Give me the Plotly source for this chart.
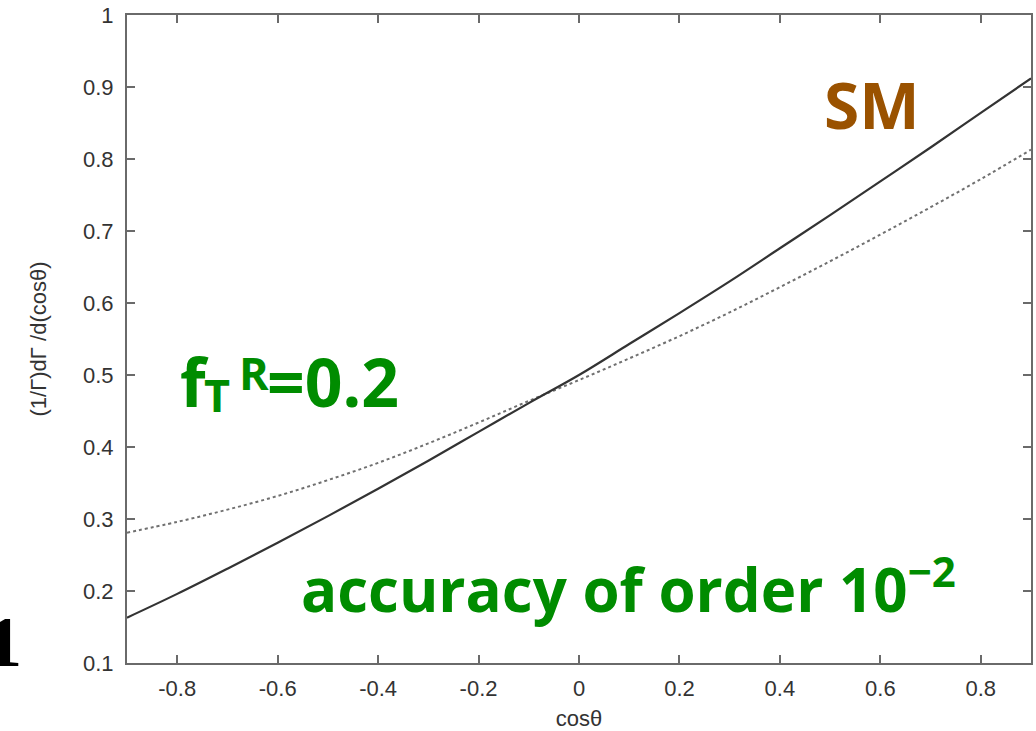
import plotly.graph_objects as go

# cos(theta) sampling points
cos_theta = [-0.9, -0.8, -0.7, -0.6, -0.5, -0.4, -0.3, -0.2, -0.1, 0.0,
             0.1, 0.2, 0.3, 0.4, 0.5, 0.6, 0.7, 0.8, 0.9]

# Standard Model distribution (solid)
sm_dist = [0.163, 0.196, 0.231, 0.267, 0.304, 0.342, 0.381, 0.421, 0.461, 0.500,
           0.543, 0.586, 0.630, 0.676, 0.722, 0.769, 0.816, 0.864, 0.912]

# Distribution with f_T^R = 0.2 (dotted)
ftr_dist = [0.281, 0.296, 0.313, 0.332, 0.354, 0.378, 0.405, 0.434, 0.464, 0.493,
            0.523, 0.554, 0.587, 0.622, 0.658, 0.695, 0.733, 0.772, 0.813]

x_ticks = [-0.8, -0.6, -0.4, -0.2, 0, 0.2, 0.4, 0.6, 0.8]
x_tick_text = ["-0.8", "-0.6", "-0.4", "-0.2", "0", "0.2", "0.4", "0.6", "0.8"]
y_ticks = [0.1, 0.2, 0.3, 0.4, 0.5, 0.6, 0.7, 0.8, 0.9, 1.0]
y_tick_text = ["0.1", "0.2", "0.3", "0.4", "0.5", "0.6", "0.7", "0.8", "0.9", "1"]

GREEN = "#008c00"
BROWN = "#9a5200"
AXIS = "#6a6a6a"
SANS = "Liberation Sans, Arial, sans-serif"
BIG = "Open Sans, Noto Sans, sans-serif"
TICKFONT = dict(family=SANS, size=22, color="#333333")

fig = go.Figure()
fig.add_trace(go.Scatter(x=cos_theta, y=ftr_dist, mode="lines", line_shape="spline",
                         line=dict(color="#707070", width=2, dash="dot"),
                         showlegend=False, hoverinfo="skip"))
fig.add_trace(go.Scatter(x=cos_theta, y=sm_dist, mode="lines", line_shape="spline",
                         line=dict(color="#333333", width=2.2),
                         showlegend=False, hoverinfo="skip"))

axis_common = dict(showline=True, linecolor=AXIS, linewidth=2, mirror="ticks",
                   ticks="inside", ticklen=8, tickwidth=1.5, tickcolor=AXIS,
                   showgrid=False, zeroline=False, tickfont=TICKFONT)

fig.update_xaxes(range=[-0.9, 0.9], tickvals=x_ticks, ticktext=x_tick_text,
                 ticklabelstandoff=5,
                 title=dict(text="cosθ", standoff=10,
                            font=dict(family=SANS, size=22, color="#333333")),
                 **axis_common)
fig.update_yaxes(range=[0.1, 1.0], tickvals=y_ticks, ticktext=y_tick_text,
                 ticklabelstandoff=7,
                 title=dict(text="(1/Γ)dΓ /d(cosθ)", standoff=30,
                            font=dict(family=SANS, size=22, color="#333333")),
                 **axis_common)

# f_T^R = 0.2 label, built from its pieces so the sub/superscript sit tight
fig.add_annotation(x=-0.798, y=0.491, xref="x", yref="y", xanchor="left", yanchor="middle",
                   text="<b>f</b>", showarrow=False,
                   font=dict(color=GREEN, family=BIG, size=66))
fig.add_annotation(x=-0.750, y=0.4736, xref="x", yref="y", xanchor="left", yanchor="middle",
                   text="<b>T</b>", showarrow=False,
                   font=dict(color=GREEN, family=BIG, size=45))
fig.add_annotation(x=-0.680, y=0.5028, xref="x", yref="y", xanchor="left", yanchor="middle",
                   text="<b>R</b>", showarrow=False,
                   font=dict(color=GREEN, family=BIG, size=45))
fig.add_annotation(x=-0.626, y=0.491, xref="x", yref="y", xanchor="left", yanchor="middle",
                   text="<b>=0.2</b>", showarrow=False,
                   font=dict(color=GREEN, family=BIG, size=66))

fig.add_annotation(x=0.484, y=0.876, xref="x", yref="y", xanchor="left", yanchor="middle",
                   text="<b>SM</b>", showarrow=False,
                   font=dict(color=BROWN, family=BIG, size=64))
fig.add_annotation(x=-0.557, y=0.2065, xref="x", yref="y", xanchor="left", yanchor="middle",
                   text="<b>accuracy of order 10<sup>−2</sup></b>", showarrow=False,
                   font=dict(color=GREEN, family=BIG, size=60))
fig.add_annotation(x=-0.114, y=0.032, xref="paper", yref="paper", xanchor="right", yanchor="middle",
                   text="<b>1</b>", showarrow=False,
                   font=dict(color="#000000", family="Liberation Serif, DejaVu Serif, serif", size=72))

fig.update_layout(width=1036, height=731, plot_bgcolor="white", paper_bgcolor="white",
                  margin=dict(l=127, r=5, t=15, b=68, autoexpand=False))

fig.write_html("out.html")
